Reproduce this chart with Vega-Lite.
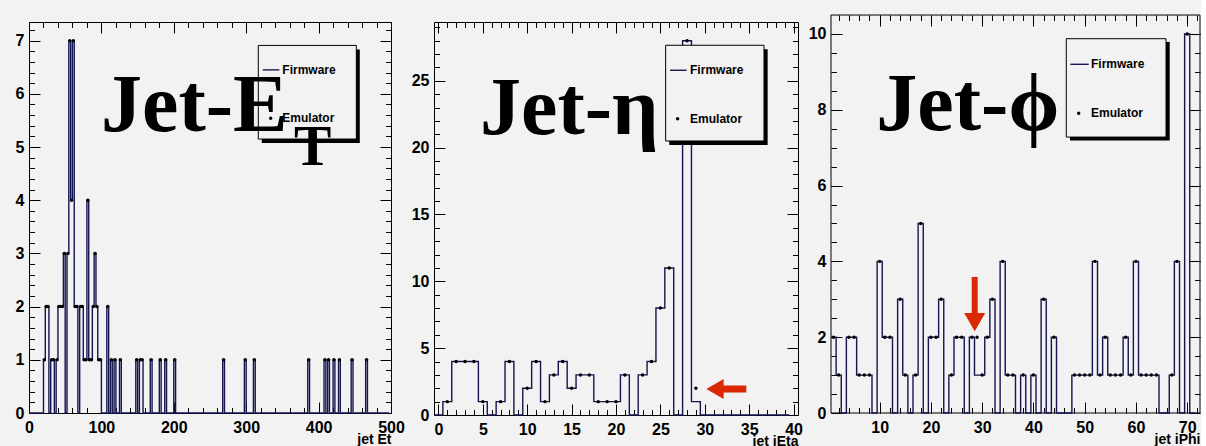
{
"$schema": "https://vega.github.io/schema/vega-lite/v6.json",
"background": "#f2f2f2",
"padding": {"left": 14, "top": 14, "right": 0, "bottom": 0},
"spacing": 5,
"config": {
  "view": {"stroke": "black", "strokeWidth": 1, "fill": "#f2f2f2"},
  "axis": {"domain": false, "grid": false, "labelFont": "Liberation Sans", "labelFontSize": 16, "labelFontWeight": "bold", "labelColor": "black", "tickColor": "black", "tickWidth": 1, "labelFlush": false, "labelOverlap": false, "titleFont": "Liberation Sans", "titleFontSize": 14, "titleFontWeight": "bold", "titleColor": "black", "titleAnchor": "end", "titlePadding": -3}
},
"datasets": {
  "et": [
    {"lo":0,"c":1.25,"fw":0,"em":0},{"lo":20,"c":21.25,"fw":1,"em":1},{"lo":22.5,"c":23.75,"fw":2,"em":2},{"lo":25,"c":26.25,"fw":2,"em":2},{"lo":27.5,"c":28.75,"fw":0,"em":0},{"lo":30,"c":31.25,"fw":1,"em":1},{"lo":32.5,"c":33.75,"fw":1,"em":1},{"lo":35,"c":36.25,"fw":0,"em":0},{"lo":37.5,"c":38.75,"fw":1,"em":1},{"lo":40,"c":41.25,"fw":2,"em":2},{"lo":42.5,"c":43.75,"fw":2,"em":2},{"lo":45,"c":46.25,"fw":2,"em":2},{"lo":47.5,"c":48.75,"fw":3,"em":3},{"lo":50,"c":51.25,"fw":0,"em":0},{"lo":52.5,"c":53.75,"fw":3,"em":3},{"lo":55,"c":56.25,"fw":7,"em":7},{"lo":57.5,"c":58.75,"fw":4,"em":4},{"lo":60,"c":61.25,"fw":7,"em":7},{"lo":62.5,"c":63.75,"fw":2,"em":2},{"lo":65,"c":66.25,"fw":2,"em":2},{"lo":67.5,"c":68.75,"fw":0,"em":0},{"lo":70,"c":71.25,"fw":2,"em":2},{"lo":72.5,"c":73.75,"fw":2,"em":2},{"lo":75,"c":76.25,"fw":1,"em":1},{"lo":77.5,"c":78.75,"fw":1,"em":1},{"lo":80,"c":81.25,"fw":4,"em":4},{"lo":82.5,"c":83.75,"fw":1,"em":1},{"lo":85,"c":86.25,"fw":1,"em":1},{"lo":87.5,"c":88.75,"fw":2,"em":2},{"lo":90,"c":91.25,"fw":3,"em":3},{"lo":92.5,"c":93.75,"fw":2,"em":2},{"lo":95,"c":96.25,"fw":1,"em":1},{"lo":97.5,"c":98.75,"fw":1,"em":1},{"lo":100,"c":101.25,"fw":0,"em":0},{"lo":107.5,"c":108.75,"fw":2,"em":2},{"lo":110,"c":111.25,"fw":0,"em":0},{"lo":112.5,"c":113.75,"fw":1,"em":1},{"lo":115,"c":116.25,"fw":0,"em":0},{"lo":117.5,"c":118.75,"fw":1,"em":1},{"lo":120,"c":121.25,"fw":0,"em":0},{"lo":125,"c":126.25,"fw":1,"em":1},{"lo":127.5,"c":128.75,"fw":0,"em":0},{"lo":147.5,"c":148.75,"fw":1,"em":1},{"lo":150,"c":151.25,"fw":0,"em":0},{"lo":152.5,"c":153.75,"fw":1,"em":1},{"lo":155,"c":156.25,"fw":1,"em":1},{"lo":157.5,"c":158.75,"fw":0,"em":0},{"lo":167.5,"c":168.75,"fw":1,"em":1},{"lo":170,"c":171.25,"fw":0,"em":0},{"lo":180,"c":181.25,"fw":1,"em":1},{"lo":182.5,"c":183.75,"fw":0,"em":0},{"lo":187.5,"c":188.75,"fw":1,"em":1},{"lo":190,"c":191.25,"fw":0,"em":0},{"lo":200,"c":201.25,"fw":1,"em":1},{"lo":202.5,"c":203.75,"fw":0,"em":0},{"lo":267.5,"c":268.75,"fw":1,"em":1},{"lo":270,"c":271.25,"fw":0,"em":0},{"lo":297.5,"c":298.75,"fw":1,"em":1},{"lo":300,"c":301.25,"fw":0,"em":0},{"lo":310,"c":311.25,"fw":1,"em":1},{"lo":312.5,"c":313.75,"fw":0,"em":0},{"lo":385,"c":386.25,"fw":1,"em":1},{"lo":387.5,"c":388.75,"fw":0,"em":0},{"lo":407.5,"c":408.75,"fw":1,"em":1},{"lo":410,"c":411.25,"fw":0,"em":0},{"lo":412.5,"c":413.75,"fw":1,"em":1},{"lo":415,"c":416.25,"fw":0,"em":0},{"lo":420,"c":421.25,"fw":1,"em":1},{"lo":422.5,"c":423.75,"fw":0,"em":0},{"lo":427.5,"c":428.75,"fw":1,"em":1},{"lo":430,"c":431.25,"fw":0,"em":0},{"lo":445,"c":446.25,"fw":1,"em":1},{"lo":447.5,"c":448.75,"fw":0,"em":0},{"lo":465,"c":466.25,"fw":1,"em":1},{"lo":467.5,"c":468.75,"fw":0,"em":0},{"lo":497.5,"c":498.75,"fw":0,"em":0}
  ],
  "eta": [
    {"lo":-0.5,"c":0,"fw":0,"em":0},{"lo":0.5,"c":1,"fw":1,"em":1},{"lo":1.5,"c":2,"fw":4,"em":4},{"lo":2.5,"c":3,"fw":4,"em":4},{"lo":3.5,"c":4,"fw":4,"em":4},{"lo":4.5,"c":5,"fw":1,"em":1},{"lo":5.5,"c":6,"fw":0,"em":0},{"lo":6.5,"c":7,"fw":1,"em":1},{"lo":7.5,"c":8,"fw":4,"em":4},{"lo":8.5,"c":9,"fw":0,"em":0},{"lo":9.5,"c":10,"fw":2,"em":2},{"lo":10.5,"c":11,"fw":4,"em":4},{"lo":11.5,"c":12,"fw":1,"em":1},{"lo":12.5,"c":13,"fw":3,"em":3},{"lo":13.5,"c":14,"fw":4,"em":4},{"lo":14.5,"c":15,"fw":2,"em":2},{"lo":15.5,"c":16,"fw":3,"em":3},{"lo":16.5,"c":17,"fw":3,"em":3},{"lo":17.5,"c":18,"fw":1,"em":1},{"lo":18.5,"c":19,"fw":1,"em":1},{"lo":19.5,"c":20,"fw":1,"em":1},{"lo":20.5,"c":21,"fw":3,"em":3},{"lo":21.5,"c":22,"fw":0,"em":0},{"lo":22.5,"c":23,"fw":3,"em":3},{"lo":23.5,"c":24,"fw":4,"em":4},{"lo":24.5,"c":25,"fw":8,"em":8},{"lo":25.5,"c":26,"fw":11,"em":11},{"lo":26.5,"c":27,"fw":0,"em":0},{"lo":27.5,"c":28,"fw":28,"em":28},{"lo":28.5,"c":29,"fw":1,"em":2},{"lo":29.5,"c":30,"fw":0,"em":0},{"lo":30.5,"c":31,"fw":0,"em":0},{"lo":31.5,"c":32,"fw":0,"em":0},{"lo":32.5,"c":33,"fw":0,"em":0},{"lo":33.5,"c":34,"fw":0,"em":0},{"lo":34.5,"c":35,"fw":0,"em":0},{"lo":35.5,"c":36,"fw":0,"em":0},{"lo":36.5,"c":37,"fw":0,"em":0},{"lo":37.5,"c":38,"fw":0,"em":0},{"lo":38.5,"c":39,"fw":0,"em":0},{"lo":39.5,"c":40,"fw":0,"em":0}
  ],
  "phi": [
    {"lo":0.5,"c":1,"fw":2,"em":2},{"lo":1.5,"c":2,"fw":1,"em":1},{"lo":2.5,"c":3,"fw":0,"em":0},{"lo":3.5,"c":4,"fw":2,"em":2},{"lo":4.5,"c":5,"fw":2,"em":2},{"lo":5.5,"c":6,"fw":1,"em":1},{"lo":6.5,"c":7,"fw":1,"em":1},{"lo":7.5,"c":8,"fw":1,"em":1},{"lo":8.5,"c":9,"fw":0,"em":0},{"lo":9.5,"c":10,"fw":4,"em":4},{"lo":10.5,"c":11,"fw":2,"em":2},{"lo":11.5,"c":12,"fw":2,"em":2},{"lo":12.5,"c":13,"fw":0,"em":0},{"lo":13.5,"c":14,"fw":3,"em":3},{"lo":14.5,"c":15,"fw":1,"em":1},{"lo":15.5,"c":16,"fw":0,"em":0},{"lo":16.5,"c":17,"fw":1,"em":1},{"lo":17.5,"c":18,"fw":5,"em":5},{"lo":18.5,"c":19,"fw":0,"em":0},{"lo":19.5,"c":20,"fw":2,"em":2},{"lo":20.5,"c":21,"fw":2,"em":2},{"lo":21.5,"c":22,"fw":3,"em":3},{"lo":22.5,"c":23,"fw":0,"em":0},{"lo":23.5,"c":24,"fw":1,"em":1},{"lo":24.5,"c":25,"fw":2,"em":2},{"lo":25.5,"c":26,"fw":2,"em":2},{"lo":26.5,"c":27,"fw":0,"em":0},{"lo":27.5,"c":28,"fw":2,"em":2},{"lo":28.5,"c":29,"fw":1,"em":2},{"lo":29.5,"c":30,"fw":1,"em":1},{"lo":30.5,"c":31,"fw":2,"em":2},{"lo":31.5,"c":32,"fw":3,"em":3},{"lo":32.5,"c":33,"fw":0,"em":0},{"lo":33.5,"c":34,"fw":4,"em":4},{"lo":34.5,"c":35,"fw":1,"em":1},{"lo":35.5,"c":36,"fw":1,"em":1},{"lo":36.5,"c":37,"fw":0,"em":0},{"lo":37.5,"c":38,"fw":1,"em":1},{"lo":38.5,"c":39,"fw":0,"em":0},{"lo":39.5,"c":40,"fw":1,"em":1},{"lo":40.5,"c":41,"fw":0,"em":0},{"lo":41.5,"c":42,"fw":3,"em":3},{"lo":42.5,"c":43,"fw":0,"em":0},{"lo":43.5,"c":44,"fw":2,"em":2},{"lo":44.5,"c":45,"fw":0,"em":0},{"lo":45.5,"c":46,"fw":0,"em":0},{"lo":46.5,"c":47,"fw":0,"em":0},{"lo":47.5,"c":48,"fw":1,"em":1},{"lo":48.5,"c":49,"fw":1,"em":1},{"lo":49.5,"c":50,"fw":1,"em":1},{"lo":50.5,"c":51,"fw":1,"em":1},{"lo":51.5,"c":52,"fw":4,"em":4},{"lo":52.5,"c":53,"fw":1,"em":1},{"lo":53.5,"c":54,"fw":2,"em":2},{"lo":54.5,"c":55,"fw":1,"em":1},{"lo":55.5,"c":56,"fw":1,"em":1},{"lo":56.5,"c":57,"fw":1,"em":1},{"lo":57.5,"c":58,"fw":2,"em":2},{"lo":58.5,"c":59,"fw":1,"em":1},{"lo":59.5,"c":60,"fw":4,"em":4},{"lo":60.5,"c":61,"fw":1,"em":1},{"lo":61.5,"c":62,"fw":1,"em":1},{"lo":62.5,"c":63,"fw":1,"em":1},{"lo":63.5,"c":64,"fw":1,"em":1},{"lo":64.5,"c":65,"fw":0,"em":0},{"lo":65.5,"c":66,"fw":0,"em":0},{"lo":66.5,"c":67,"fw":1,"em":1},{"lo":67.5,"c":68,"fw":4,"em":4},{"lo":68.5,"c":69,"fw":0,"em":0},{"lo":69.5,"c":70,"fw":10,"em":10},{"lo":70.5,"c":71,"fw":0,"em":0},{"lo":71.5,"c":72,"fw":0,"em":0}
  ]
},
"hconcat": [
  {
    "width": 362, "height": 391,
    "data": {"name": "et"},
    "resolve": {"axis": {"x": "independent", "y": "independent"}},
    "layer": [
      {"mark": {"type": "line", "interpolate": "step-after", "color": "#151550", "strokeWidth": 1.4},
       "encoding": {
         "x": {"field": "lo", "type": "quantitative", "scale": {"domain": [0, 500], "nice": false, "zero": false}, "axis": {"orient": "bottom", "values": [0,100,200,300,400,500], "tickSize": -11, "labelPadding": 17, "title": "jet Et"}},
         "y": {"field": "fw", "type": "quantitative", "scale": {"domain": [0, 7.35], "nice": false, "zero": false}, "axis": {"orient": "left", "values": [0,1,2,3,4,5,6,7], "tickSize": -11, "labelPadding": 16, "title": null}}}},
      {"transform": [{"filter": "datum.em > 0"}],
       "mark": {"type": "point", "filled": true, "color": "black", "size": 12, "opacity": 1},
       "encoding": {
         "x": {"field": "c", "type": "quantitative", "scale": {"domain": [0, 500], "nice": false, "zero": false}, "axis": {"orient": "bottom", "values": [0,20,40,60,80,100,120,140,160,180,200,220,240,260,280,300,320,340,360,380,400,420,440,460,480,500], "tickSize": -5.5, "labels": false, "title": null}},
         "y": {"field": "em", "type": "quantitative", "scale": {"domain": [0, 7.35], "nice": false, "zero": false}, "axis": {"orient": "left", "values": [0,0.2,0.4,0.6,0.8,1,1.2,1.4,1.6,1.8,2,2.2,2.4,2.6,2.8,3,3.2,3.4,3.6,3.8,4,4.2,4.4,4.6,4.8,5,5.2,5.4,5.6,5.8,6,6.2,6.4,6.6,6.8,7,7.2], "tickSize": -5.5, "labels": false, "title": null}}}},
      {"mark": {"type": "point", "opacity": 0},
       "encoding": {
         "x": {"field": "c", "type": "quantitative", "scale": {"domain": [0, 500], "nice": false, "zero": false}, "axis": {"orient": "top", "values": [0,100,200,300,400,500], "tickSize": -11, "labels": false, "title": null}},
         "y": {"field": "fw", "type": "quantitative", "scale": {"domain": [0, 7.35], "nice": false, "zero": false}, "axis": {"orient": "right", "values": [0,1,2,3,4,5,6,7], "tickSize": -11, "labels": false, "title": null}}}},
      {"mark": {"type": "point", "opacity": 0},
       "encoding": {
         "x": {"field": "c", "type": "quantitative", "scale": {"domain": [0, 500], "nice": false, "zero": false}, "axis": {"orient": "top", "values": [0,20,40,60,80,100,120,140,160,180,200,220,240,260,280,300,320,340,360,380,400,420,440,460,480,500], "tickSize": -5.5, "labels": false, "title": null}},
         "y": {"field": "fw", "type": "quantitative", "scale": {"domain": [0, 7.35], "nice": false, "zero": false}, "axis": {"orient": "right", "values": [0,0.2,0.4,0.6,0.8,1,1.2,1.4,1.6,1.8,2,2.2,2.4,2.6,2.8,3,3.2,3.4,3.6,3.8,4,4.2,4.4,4.6,4.8,5,5.2,5.4,5.6,5.8,6,6.2,6.4,6.6,6.8,7,7.2], "tickSize": -5.5, "labels": false, "title": null}}}},
      {"data": {"values": [{}]}, "mark": {"type": "rect", "color": "black"},
       "encoding": {"x": {"datum": 321.5, "type": "quantitative", "scale": {"domain": [0, 500], "nice": false, "zero": false}, "axis": null}, "x2": {"datum": 456.9},
                    "y": {"datum": 5.075, "type": "quantitative", "scale": {"domain": [0, 7.35], "nice": false, "zero": false}, "axis": null}, "y2": {"datum": 6.835}}},
      {"data": {"values": [{}]}, "mark": {"type": "rect", "fill": "#f2f2f2", "stroke": "black", "strokeWidth": 1},
       "encoding": {"x": {"datum": 316.7, "type": "quantitative", "scale": {"domain": [0, 500], "nice": false, "zero": false}, "axis": null}, "x2": {"datum": 452.1},
                    "y": {"datum": 5.15, "type": "quantitative", "scale": {"domain": [0, 7.35], "nice": false, "zero": false}, "axis": null}, "y2": {"datum": 6.91}}},
      {"data": {"values": [{}]}, "mark": {"type": "rule", "color": "#151550", "strokeWidth": 1.4},
       "encoding": {"x": {"datum": 322.8, "type": "quantitative", "scale": {"domain": [0, 500], "nice": false, "zero": false}, "axis": null}, "x2": {"datum": 345.7},
                    "y": {"datum": 6.45, "type": "quantitative", "scale": {"domain": [0, 7.35], "nice": false, "zero": false}, "axis": null}}},
      {"data": {"values": [{}]}, "mark": {"type": "point", "filled": true, "color": "black", "size": 12, "opacity": 1},
       "encoding": {"x": {"datum": 333.8, "type": "quantitative", "scale": {"domain": [0, 500], "nice": false, "zero": false}, "axis": null},
                    "y": {"datum": 5.54, "type": "quantitative", "scale": {"domain": [0, 7.35], "nice": false, "zero": false}, "axis": null}}},
      {"data": {"values": [{}]}, "mark": {"type": "text", "text": "Firmware", "font": "Liberation Sans", "fontWeight": "bold", "fontSize": 12, "align": "left", "baseline": "middle", "color": "black"},
       "encoding": {"x": {"datum": 349.9, "type": "quantitative", "scale": {"domain": [0, 500], "nice": false, "zero": false}, "axis": null},
                    "y": {"datum": 6.45, "type": "quantitative", "scale": {"domain": [0, 7.35], "nice": false, "zero": false}, "axis": null}}},
      {"data": {"values": [{}]}, "mark": {"type": "text", "text": "Emulator", "font": "Liberation Sans", "fontWeight": "bold", "fontSize": 12, "align": "left", "baseline": "middle", "color": "black"},
       "encoding": {"x": {"datum": 349.9, "type": "quantitative", "scale": {"domain": [0, 500], "nice": false, "zero": false}, "axis": null},
                    "y": {"datum": 5.54, "type": "quantitative", "scale": {"domain": [0, 7.35], "nice": false, "zero": false}, "axis": null}}},
      {"data": {"values": [{}]}, "mark": {"type": "text", "text": "Jet-E", "font": "Liberation Serif", "fontWeight": "bold", "fontSize": 82, "align": "left", "baseline": "alphabetic", "color": "black"},
       "encoding": {"x": {"datum": 99.5, "type": "quantitative", "scale": {"domain": [0, 500], "nice": false, "zero": false}, "axis": null},
                    "y": {"datum": 5.30, "type": "quantitative", "scale": {"domain": [0, 7.35], "nice": false, "zero": false}, "axis": null}}},
      {"data": {"values": [{}]}, "mark": {"type": "text", "text": "T", "font": "Liberation Serif", "fontWeight": "bold", "fontSize": 56, "align": "left", "baseline": "alphabetic", "color": "black"},
       "encoding": {"x": {"datum": 366, "type": "quantitative", "scale": {"domain": [0, 500], "nice": false, "zero": false}, "axis": null},
                    "y": {"datum": 4.66, "type": "quantitative", "scale": {"domain": [0, 7.35], "nice": false, "zero": false}, "axis": null}}}
    ]
  },
  {
    "width": 364, "height": 393,
    "data": {"name": "eta"},
    "resolve": {"axis": {"x": "independent", "y": "independent"}},
    "layer": [
      {"mark": {"type": "line", "interpolate": "step-after", "color": "#151550", "strokeWidth": 1.4},
       "encoding": {
         "x": {"field": "lo", "type": "quantitative", "scale": {"domain": [-0.5, 40.5], "nice": false, "zero": false}, "axis": {"orient": "bottom", "values": [0,5,10,15,20,25,30,35,40], "tickSize": -11, "labelPadding": 17, "title": "jet iEta"}},
         "y": {"field": "fw", "type": "quantitative", "scale": {"domain": [0, 29.4], "nice": false, "zero": false}, "axis": {"orient": "left", "values": [0,5,10,15,20,25], "tickSize": -11, "labelPadding": 16, "title": null}}}},
      {"transform": [{"filter": "datum.em > 0"}],
       "mark": {"type": "point", "filled": true, "color": "black", "size": 12, "opacity": 1},
       "encoding": {
         "x": {"field": "c", "type": "quantitative", "scale": {"domain": [-0.5, 40.5], "nice": false, "zero": false}, "axis": {"orient": "bottom", "values": [0,1,2,3,4,5,6,7,8,9,10,11,12,13,14,15,16,17,18,19,20,21,22,23,24,25,26,27,28,29,30,31,32,33,34,35,36,37,38,39,40], "tickSize": -5.5, "labels": false, "title": null}},
         "y": {"field": "em", "type": "quantitative", "scale": {"domain": [0, 29.4], "nice": false, "zero": false}, "axis": {"orient": "left", "values": [0,1,2,3,4,5,6,7,8,9,10,11,12,13,14,15,16,17,18,19,20,21,22,23,24,25,26,27,28,29], "tickSize": -5.5, "labels": false, "title": null}}}},
      {"mark": {"type": "point", "opacity": 0},
       "encoding": {
         "x": {"field": "c", "type": "quantitative", "scale": {"domain": [-0.5, 40.5], "nice": false, "zero": false}, "axis": {"orient": "top", "values": [0,5,10,15,20,25,30,35,40], "tickSize": -11, "labels": false, "title": null}},
         "y": {"field": "fw", "type": "quantitative", "scale": {"domain": [0, 29.4], "nice": false, "zero": false}, "axis": {"orient": "right", "values": [0,5,10,15,20,25], "tickSize": -11, "labels": false, "title": null}}}},
      {"mark": {"type": "point", "opacity": 0},
       "encoding": {
         "x": {"field": "c", "type": "quantitative", "scale": {"domain": [-0.5, 40.5], "nice": false, "zero": false}, "axis": {"orient": "top", "values": [0,1,2,3,4,5,6,7,8,9,10,11,12,13,14,15,16,17,18,19,20,21,22,23,24,25,26,27,28,29,30,31,32,33,34,35,36,37,38,39,40], "tickSize": -5.5, "labels": false, "title": null}},
         "y": {"field": "fw", "type": "quantitative", "scale": {"domain": [0, 29.4], "nice": false, "zero": false}, "axis": {"orient": "right", "values": [0,1,2,3,4,5,6,7,8,9,10,11,12,13,14,15,16,17,18,19,20,21,22,23,24,25,26,27,28,29], "tickSize": -5.5, "labels": false, "title": null}}}},
      {"data": {"values": [{}]}, "mark": {"type": "rect", "color": "black"},
       "encoding": {"x": {"datum": 26.0, "type": "quantitative", "scale": {"domain": [-0.5, 40.5], "nice": false, "zero": false}, "axis": null}, "x2": {"datum": 37.08},
                    "y": {"datum": 20.2, "type": "quantitative", "scale": {"domain": [0, 29.4], "nice": false, "zero": false}, "axis": null}, "y2": {"datum": 27.36}}},
      {"data": {"values": [{}]}, "mark": {"type": "rect", "fill": "#f2f2f2", "stroke": "black", "strokeWidth": 1},
       "encoding": {"x": {"datum": 25.59, "type": "quantitative", "scale": {"domain": [-0.5, 40.5], "nice": false, "zero": false}, "axis": null}, "x2": {"datum": 36.67},
                    "y": {"datum": 20.5, "type": "quantitative", "scale": {"domain": [0, 29.4], "nice": false, "zero": false}, "axis": null}, "y2": {"datum": 27.66}}},
      {"data": {"values": [{}]}, "mark": {"type": "rule", "color": "#151550", "strokeWidth": 1.4},
       "encoding": {"x": {"datum": 26.08, "type": "quantitative", "scale": {"domain": [-0.5, 40.5], "nice": false, "zero": false}, "axis": null}, "x2": {"datum": 27.95},
                    "y": {"datum": 25.79, "type": "quantitative", "scale": {"domain": [0, 29.4], "nice": false, "zero": false}, "axis": null}}},
      {"data": {"values": [{}]}, "mark": {"type": "point", "filled": true, "color": "black", "size": 12, "opacity": 1},
       "encoding": {"x": {"datum": 26.94, "type": "quantitative", "scale": {"domain": [-0.5, 40.5], "nice": false, "zero": false}, "axis": null},
                    "y": {"datum": 22.17, "type": "quantitative", "scale": {"domain": [0, 29.4], "nice": false, "zero": false}, "axis": null}}},
      {"data": {"values": [{}]}, "mark": {"type": "text", "text": "Firmware", "font": "Liberation Sans", "fontWeight": "bold", "fontSize": 12, "align": "left", "baseline": "middle", "color": "black"},
       "encoding": {"x": {"datum": 28.34, "type": "quantitative", "scale": {"domain": [-0.5, 40.5], "nice": false, "zero": false}, "axis": null},
                    "y": {"datum": 25.79, "type": "quantitative", "scale": {"domain": [0, 29.4], "nice": false, "zero": false}, "axis": null}}},
      {"data": {"values": [{}]}, "mark": {"type": "text", "text": "Emulator", "font": "Liberation Sans", "fontWeight": "bold", "fontSize": 12, "align": "left", "baseline": "middle", "color": "black"},
       "encoding": {"x": {"datum": 28.34, "type": "quantitative", "scale": {"domain": [-0.5, 40.5], "nice": false, "zero": false}, "axis": null},
                    "y": {"datum": 22.17, "type": "quantitative", "scale": {"domain": [0, 29.4], "nice": false, "zero": false}, "axis": null}}},
      {"data": {"values": [{}]}, "mark": {"type": "rule", "color": "#db2800", "strokeWidth": 7, "strokeCap": "butt"},
       "encoding": {"x": {"datum": 31.75, "type": "quantitative", "scale": {"domain": [-0.5, 40.5], "nice": false, "zero": false}, "axis": null}, "x2": {"datum": 34.68},
                    "y": {"datum": 1.945, "type": "quantitative", "scale": {"domain": [0, 29.4], "nice": false, "zero": false}, "axis": null}}},
      {"data": {"values": [{}]}, "mark": {"type": "point", "shape": "triangle-left", "filled": true, "color": "#db2800", "size": 400, "opacity": 1},
       "encoding": {"x": {"datum": 31.15, "type": "quantitative", "scale": {"domain": [-0.5, 40.5], "nice": false, "zero": false}, "axis": null},
                    "y": {"datum": 1.945, "type": "quantitative", "scale": {"domain": [0, 29.4], "nice": false, "zero": false}, "axis": null}}},
      {"data": {"values": [{}]}, "mark": {"type": "text", "text": "Jet-η", "font": "Liberation Serif", "fontWeight": "bold", "fontSize": 82, "align": "left", "baseline": "alphabetic", "color": "black"},
       "encoding": {"x": {"datum": 4.68, "type": "quantitative", "scale": {"domain": [-0.5, 40.5], "nice": false, "zero": false}, "axis": null},
                    "y": {"datum": 21.02, "type": "quantitative", "scale": {"domain": [0, 29.4], "nice": false, "zero": false}, "axis": null}}}
    ]
  },
  {
    "width": 369, "height": 391,
    "view": {"stroke": null},
    "data": {"name": "phi"},
    "resolve": {"axis": {"x": "independent", "y": "independent"}},
    "layer": [
      {"data": {"values": [{}]}, "mark": {"type": "rect", "filled": false, "stroke": "black", "strokeWidth": 1},
       "encoding": {"x": {"datum": 0.5, "type": "quantitative", "scale": {"domain": [0.5, 72.5], "nice": false, "zero": false}, "axis": null}, "x2": {"datum": 72.5},
                    "y": {"datum": 0, "type": "quantitative", "scale": {"domain": [0, 10.316], "nice": false, "zero": false}, "axis": null}, "y2": {"datum": 10.5}}},
      {"mark": {"type": "line", "interpolate": "step-after", "color": "#151550", "strokeWidth": 1.4},
       "encoding": {
         "x": {"field": "lo", "type": "quantitative", "scale": {"domain": [0.5, 72.5], "nice": false, "zero": false}, "axis": {"orient": "bottom", "values": [10,20,30,40,50,60,70], "tickSize": -11, "labelPadding": 17, "title": "jet iPhi"}},
         "y": {"field": "fw", "type": "quantitative", "scale": {"domain": [0, 10.316], "nice": false, "zero": false}, "axis": {"orient": "left", "values": [0,2,4,6,8,10], "tickSize": -11, "labelPadding": 16, "title": null}}}},
      {"transform": [{"filter": "datum.em > 0"}],
       "mark": {"type": "point", "filled": true, "color": "black", "size": 12, "opacity": 1},
       "encoding": {
         "x": {"field": "c", "type": "quantitative", "scale": {"domain": [0.5, 72.5], "nice": false, "zero": false}, "axis": {"orient": "bottom", "values": [2,4,6,8,10,12,14,16,18,20,22,24,26,28,30,32,34,36,38,40,42,44,46,48,50,52,54,56,58,60,62,64,66,68,70,72], "tickSize": -5.5, "labels": false, "title": null}},
         "y": {"field": "em", "type": "quantitative", "scale": {"domain": [0, 10.316], "nice": false, "zero": false}, "axis": {"orient": "left", "values": [0,0.5,1,1.5,2,2.5,3,3.5,4,4.5,5,5.5,6,6.5,7,7.5,8,8.5,9,9.5,10], "tickSize": -5.5, "labels": false, "title": null}}}},
      {"mark": {"type": "point", "opacity": 0},
       "encoding": {
         "x": {"field": "c", "type": "quantitative", "scale": {"domain": [0.5, 72.5], "nice": false, "zero": false}, "axis": {"orient": "top", "offset": 7, "values": [10,20,30,40,50,60,70], "tickSize": -11, "labels": false, "title": null}},
         "y": {"field": "fw", "type": "quantitative", "scale": {"domain": [0, 10.316], "nice": false, "zero": false}, "axis": {"orient": "right", "values": [0,2,4,6,8,10], "tickSize": -11, "labels": false, "title": null}}}},
      {"mark": {"type": "point", "opacity": 0},
       "encoding": {
         "x": {"field": "c", "type": "quantitative", "scale": {"domain": [0.5, 72.5], "nice": false, "zero": false}, "axis": {"orient": "top", "offset": 7, "values": [2,4,6,8,10,12,14,16,18,20,22,24,26,28,30,32,34,36,38,40,42,44,46,48,50,52,54,56,58,60,62,64,66,68,70,72], "tickSize": -5.5, "labels": false, "title": null}},
         "y": {"field": "fw", "type": "quantitative", "scale": {"domain": [0, 10.316], "nice": false, "zero": false}, "axis": {"orient": "right", "values": [0,0.5,1,1.5,2,2.5,3,3.5,4,4.5,5,5.5,6,6.5,7,7.5,8,8.5,9,9.5,10], "tickSize": -5.5, "labels": false, "title": null}}}},
      {"data": {"values": [{}]}, "mark": {"type": "rect", "color": "black"},
       "encoding": {"x": {"datum": 47.13, "type": "quantitative", "scale": {"domain": [0.5, 72.5], "nice": false, "zero": false}, "axis": null}, "x2": {"datum": 66.59},
                    "y": {"datum": 7.19, "type": "quantitative", "scale": {"domain": [0, 10.316], "nice": false, "zero": false}, "axis": null}, "y2": {"datum": 9.79}}},
      {"data": {"values": [{}]}, "mark": {"type": "rect", "fill": "#f2f2f2", "stroke": "black", "strokeWidth": 1},
       "encoding": {"x": {"datum": 46.41, "type": "quantitative", "scale": {"domain": [0.5, 72.5], "nice": false, "zero": false}, "axis": null}, "x2": {"datum": 65.87},
                    "y": {"datum": 7.28, "type": "quantitative", "scale": {"domain": [0, 10.316], "nice": false, "zero": false}, "axis": null}, "y2": {"datum": 9.875}}},
      {"data": {"values": [{}]}, "mark": {"type": "rule", "color": "#151550", "strokeWidth": 1.4},
       "encoding": {"x": {"datum": 47.2, "type": "quantitative", "scale": {"domain": [0.5, 72.5], "nice": false, "zero": false}, "axis": null}, "x2": {"datum": 50.78},
                    "y": {"datum": 9.2, "type": "quantitative", "scale": {"domain": [0, 10.316], "nice": false, "zero": false}, "axis": null}}},
      {"data": {"values": [{}]}, "mark": {"type": "point", "filled": true, "color": "black", "size": 12, "opacity": 1},
       "encoding": {"x": {"datum": 48.83, "type": "quantitative", "scale": {"domain": [0.5, 72.5], "nice": false, "zero": false}, "axis": null},
                    "y": {"datum": 7.91, "type": "quantitative", "scale": {"domain": [0, 10.316], "nice": false, "zero": false}, "axis": null}}},
      {"data": {"values": [{}]}, "mark": {"type": "text", "text": "Firmware", "font": "Liberation Sans", "fontWeight": "bold", "fontSize": 12, "align": "left", "baseline": "middle", "color": "black"},
       "encoding": {"x": {"datum": 51.23, "type": "quantitative", "scale": {"domain": [0.5, 72.5], "nice": false, "zero": false}, "axis": null},
                    "y": {"datum": 9.2, "type": "quantitative", "scale": {"domain": [0, 10.316], "nice": false, "zero": false}, "axis": null}}},
      {"data": {"values": [{}]}, "mark": {"type": "text", "text": "Emulator", "font": "Liberation Sans", "fontWeight": "bold", "fontSize": 12, "align": "left", "baseline": "middle", "color": "black"},
       "encoding": {"x": {"datum": 51.23, "type": "quantitative", "scale": {"domain": [0.5, 72.5], "nice": false, "zero": false}, "axis": null},
                    "y": {"datum": 7.91, "type": "quantitative", "scale": {"domain": [0, 10.316], "nice": false, "zero": false}, "axis": null}}},
      {"data": {"values": [{}]}, "mark": {"type": "rule", "color": "#db2800", "strokeWidth": 6, "strokeCap": "butt"},
       "encoding": {"x": {"datum": 28.54, "type": "quantitative", "scale": {"domain": [0.5, 72.5], "nice": false, "zero": false}, "axis": null},
                    "y": {"datum": 3.59, "type": "quantitative", "scale": {"domain": [0, 10.316], "nice": false, "zero": false}, "axis": null}, "y2": {"datum": 2.55}}},
      {"data": {"values": [{}]}, "mark": {"type": "point", "shape": "triangle-down", "filled": true, "color": "#db2800", "size": 441, "opacity": 1},
       "encoding": {"x": {"datum": 28.54, "type": "quantitative", "scale": {"domain": [0.5, 72.5], "nice": false, "zero": false}, "axis": null},
                    "y": {"datum": 2.40, "type": "quantitative", "scale": {"domain": [0, 10.316], "nice": false, "zero": false}, "axis": null}}},
      {"data": {"values": [{}]}, "mark": {"type": "text", "text": "Jet-ϕ", "font": "Liberation Serif", "fontWeight": "bold", "fontSize": 82, "align": "left", "baseline": "alphabetic", "color": "black"},
       "encoding": {"x": {"datum": 9.34, "type": "quantitative", "scale": {"domain": [0.5, 72.5], "nice": false, "zero": false}, "axis": null},
                    "y": {"datum": 7.46, "type": "quantitative", "scale": {"domain": [0, 10.316], "nice": false, "zero": false}, "axis": null}}}
    ]
  }
]
}
